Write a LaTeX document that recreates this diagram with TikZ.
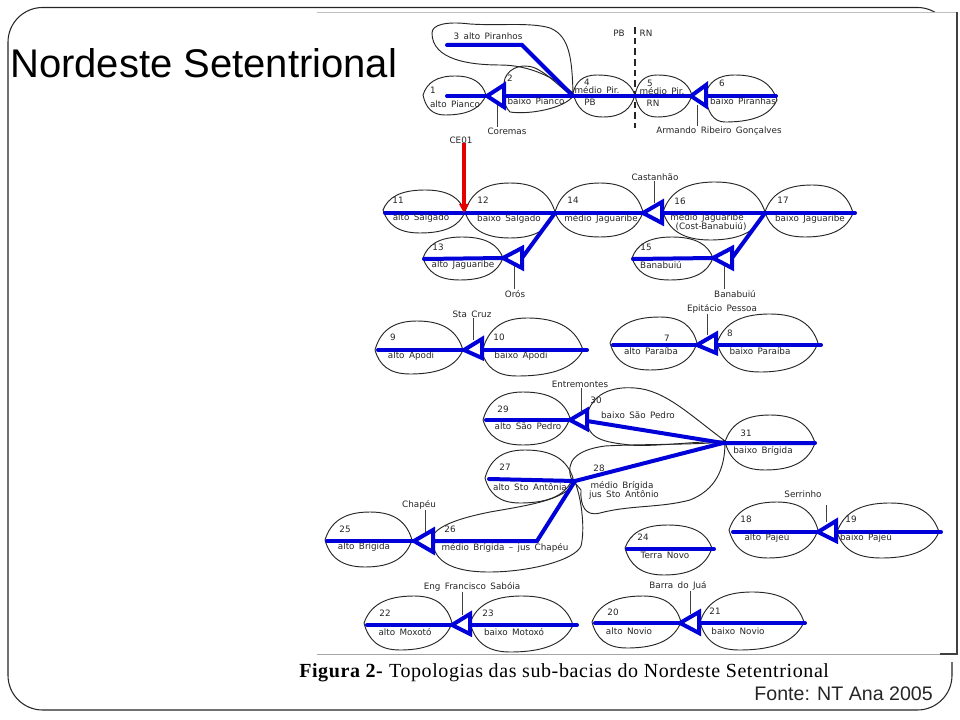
\documentclass[tikz,border=0pt]{standalone}
\usepackage{fontspec}
\setmainfont{Liberation Sans}
\newfontfamily\capfont[LetterSpace=3]{Liberation Serif}
\newfontfamily\lblfont{DejaVu Sans}
\tikzset{
 frameline/.style={draw=black!85,line width=0.8pt,rounded corners=26pt},
 basin/.style={draw=black!85,line width=0.7pt},
 river/.style={draw=blue!85!black,line width=3pt,line cap=round,line join=miter},
 dam/.style={draw=blue!85!black,line width=3pt,line join=miter,fill=white},
 stem/.style={draw=black!75,line width=0.6pt},
 lbl/.style={font=\lblfont\fontsize{6.6}{7}\selectfont,text=black!85,inner sep=0.5pt},
}
% lens-shaped basin: left tip, top, right tip, bottom
\newcommand{\lens}[8]{\draw[basin] (#1,#2)
 .. controls ({#1+0.12*(#3-#1)},{#2+0.62*(#4-#2)}) and ({#3-0.6*(#3-#1)},#4) .. (#3,#4)
 .. controls ({#3+0.6*(#5-#3)},#4) and ({#5-0.12*(#5-#3)},{#6+0.62*(#4-#6)}) .. (#5,#6)
 .. controls ({#5-0.12*(#5-#7)},{#6+0.62*(#8-#6)}) and ({#7+0.6*(#5-#7)},#8) .. (#7,#8)
 .. controls ({#7-0.6*(#7-#1)},#8) and ({#1+0.12*(#7-#1)},{#2+0.62*(#8-#2)}) .. (#1,#2) -- cycle;}
\newcommand{\lb}[3]{\node[lbl] at (#1,#2) {#3};}
\newcommand{\damm}[2]{\draw[dam] (#1) -- (#2 t) -- (#2 b) -- cycle;}
\begin{document}
\begin{tikzpicture}[x=0.75pt,y=-0.75pt]
\useasboundingbox (0,0) rectangle (960,720);
\fill[white] (0,0) rectangle (960,720);
\draw[frameline] (8,7.5) rectangle (952,710);
\fill[white] (317,12) rectangle (957,654);
\fill[white] (940,654) rectangle (957,662);
\draw[black!25,line width=0.6pt] (317,12) -- (957,12);
\draw[black!35,line width=0.7pt] (317,654) -- (957,654);
\draw[black!75,line width=1.1pt] (940,654) -- (957,654) -- (957,12);
\node[anchor=west,inner sep=0pt,font=\fontsize{30}{32}\selectfont] (title) at (10,63) {Nordeste Setentrional};
\node[anchor=west,inner sep=0pt,font=\capfont\fontsize{15}{16}\selectfont] (cap) at (299,673) {\textbf{Figura 2-} Topologias das sub-bacias do Nordeste Setentrional};
\node[anchor=east,inner sep=0pt,font=\fontsize{14.7}{16}\selectfont,text=black!85] (src) at (933,694) {Fonte: NT Ana 2005};
% ---- basins
\lens{423}{95}{455}{76}{486}{95}{445}{115}
\draw[basin] (432,33) .. controls (432,25) and (445,21) .. (470,24) .. controls (500,26) and (530,22) .. (550,28) .. controls (570,36) and (572,60) .. (573,93) .. controls (555,78) and (530,65) .. (500,65) .. controls (470,65) and (432,60) .. (432,33) -- cycle;
\draw[basin] (504,83) .. controls (505,70) and (520,62) .. (535,68) .. controls (550,75) and (560,88) .. (573,96) .. controls (565,108) and (530,115) .. (510,112) .. controls (503,105) and (503,95) .. (504,83) -- cycle;
\lens{573}{93}{597}{75}{635}{95}{603}{117}
\lens{635}{95}{657}{75}{692}{95}{657}{117}
\lens{705}{95}{735}{75}{777}{100}{725}{122}
\lens{383}{210}{425}{190}{465}{212}{420}{233}
\lens{465}{212}{510}{183}{555}{212}{510}{238}
\lens{555}{212}{600}{183}{643}{212}{600}{237}
\lens{663}{212}{715}{182}{765}{212}{710}{240}
\lens{765}{212}{812}{185}{853}{213}{805}{237}
\lens{423}{258}{462}{237}{503}{258}{460}{280}
\lens{632}{258}{672}{237}{713}{258}{670}{280}
\lens{375}{350}{417}{321}{463}{350}{410}{374}
\lens{482}{352}{527}{318}{583}{350}{517}{376}
\lens{610}{343}{660}{317}{697}{343}{650}{370}
\lens{717}{343}{770}{314}{818}{343}{760}{372}
\lens{483}{420}{523}{392}{570}{418}{523}{445}
\draw[basin] (587,415) .. controls (592,395) and (610,386) .. (635,388) .. controls (665,390) and (690,415) .. (725,441) .. controls (690,442) and (650,447) .. (630,445) .. controls (605,442) and (585,440) .. (587,415) -- cycle;
\lens{725}{442}{770}{415}{815}{443}{765}{470}
\lens{485}{478}{525}{450}{573}{478}{520}{503}
\draw[basin] (571,478) .. controls (566,462) and (575,450) .. (605,446) .. controls (640,444) and (690,445) .. (725,442) .. controls (725,470) and (715,490) .. (690,500) .. controls (660,508) and (630,505) .. (600,513) .. controls (585,517) and (580,505) .. (581,490) -- cycle;
\draw[basin] (433,535) .. controls (440,525) and (460,518) .. (490,512) .. controls (530,505) and (565,500) .. (575,482) .. controls (582,500) and (585,530) .. (581,546) .. controls (575,560) and (530,572) .. (489,572) .. controls (450,572) and (430,560) .. (433,535) -- cycle;
\lens{325}{540}{370}{512}{412}{540}{365}{567}
\lens{625}{548}{668}{525}{712}{548}{664}{575}
\lens{729}{530}{777}{502}{818}{530}{768}{558}
\lens{837}{532}{890}{503}{939}{532}{881}{558}
\lens{364}{623}{414}{596}{452}{623}{400}{650}
\lens{470}{623}{522}{596}{573}{625}{510}{652}
\lens{592}{622}{643}{596}{681}{622}{627}{648}
\lens{700}{622}{752}{592}{804}{622}{739}{650}
% ---- coordinates: dams (tip, base top, base bottom)
\coordinate (a1) at (487,96);  \coordinate (A1 t) at (504,85);  \coordinate (A1 b) at (504,107);
\coordinate (a2) at (691,96);  \coordinate (A2 t) at (706,85);  \coordinate (A2 b) at (706,106);
\coordinate (a3) at (643,213); \coordinate (A3 t) at (662,202); \coordinate (A3 b) at (662,223);
\coordinate (a4) at (503,258); \coordinate (A4 t) at (522,248); \coordinate (A4 b) at (522,268);
\coordinate (a5) at (713,258); \coordinate (A5 t) at (732,248); \coordinate (A5 b) at (732,268);
\coordinate (a6) at (464,350); \coordinate (A6 t) at (482,339); \coordinate (A6 b) at (482,358);
\coordinate (a7) at (697,345); \coordinate (A7 t) at (716,334); \coordinate (A7 b) at (716,353);
\coordinate (a8) at (570,420); \coordinate (A8 t) at (587,410); \coordinate (A8 b) at (587,429);
\coordinate (a9) at (414,541); \coordinate (A9 t) at (433,530); \coordinate (A9 b) at (433,552);
\coordinate (a10) at (818,532);\coordinate (A10 t) at (836,521);\coordinate (A10 b) at (836,541);
\coordinate (a11) at (452,625);\coordinate (A11 t) at (470,614);\coordinate (A11 b) at (470,634);
\coordinate (a12) at (680,623);\coordinate (A12 t) at (699,612);\coordinate (A12 b) at (699,633);
% ---- junctions
\coordinate (j4) at (573,96); \coordinate (j14) at (555,213); \coordinate (j17) at (765,213);
\coordinate (j31) at (723,443); \coordinate (j28) at (575,481); \coordinate (k26) at (537,541);
% ---- dividing line
\draw[black!85,line width=1pt,dash pattern=on 5pt off 3pt] (635,27) coordinate (pbt) -- (635,128) coordinate (pbb);
% ---- rivers
\draw[river] (447,96) coordinate (r1) -- (a1);
\draw[river] (447,45) coordinate (r3) -- (522,45) -- (j4);
\draw[river] (A1 t |- a1) -- (j4) -- (a2);
\draw[river] (A2 t |- a2) -- (776,96) coordinate (r6);
\draw[river] (385,213) coordinate (r11) -- (a3);
\draw[river] (A3 t |- a3) -- (855,213) coordinate (r17);
\draw[river] (j14) -- (522,258);
\draw[river] (424,259) coordinate (r13) -- (a4);
\draw[river] (j17) -- (732,258);
\draw[river] (633,259) coordinate (r15) -- (a5);
\draw[river] (378,350) coordinate (r9) -- (a6);
\draw[river] (482,350) -- (587,350) coordinate (r10);
\draw[river] (613,345) coordinate (r7) -- (a7);
\draw[river] (716,345) -- (821,345) coordinate (r8);
\draw[river] (486,420) coordinate (r29) -- (a8);
\draw[river] (815,443) coordinate (r31) -- (j31) -- (587,421);
\draw[river] (j31) -- (j28) -- (k26) -- (433,541);
\draw[river] (489,479) coordinate (r27) -- (j28);
\draw[river] (327,541) coordinate (r25) -- (a9);
\draw[river] (627,549) coordinate (r24a) -- (714,549) coordinate (r24b);
\draw[river] (733,532) coordinate (r18) -- (a10);
\draw[river] (836,532) -- (941,532) coordinate (r19);
\draw[river] (367,625) coordinate (r22) -- (a11);
\draw[river] (470,625) -- (577,625) coordinate (r23);
\draw[river] (595,623) coordinate (r20) -- (a12);
\draw[river] (699,623) -- (805,623) coordinate (r21);
% ---- dams
\damm{a1}{A1}\damm{a2}{A2}\damm{a3}{A3}\damm{a4}{A4}\damm{a5}{A5}\damm{a6}{A6}
\damm{a7}{A7}\damm{a8}{A8}\damm{a9}{A9}\damm{a10}{A10}\damm{a11}{A11}\damm{a12}{A12}
% ---- dam labels
\node[lbl] (coremas) at (507,131) {Coremas};
\node[lbl] (armando) at (719,131) {Armando\enspace Ribeiro\enspace Gonçalves};
\node[lbl] (ce01) at (461,140) {CE01};
\node[lbl] (castanhao) at (655,177) {Castanhão};
\node[lbl] (oros) at (515,294) {Orós};
\node[lbl] (banab) at (735,294) {Banabuiú};
\node[lbl] (stacruz) at (472,314) {Sta\enspace Cruz};
\node[lbl] (epitacio) at (722,309) {Epitácio\enspace Pessoa};
\node[lbl] (entre) at (580,384) {Entremontes};
\node[lbl] (chapeu) at (419,505) {Chapéu};
\node[lbl] (serrinho) at (803,494) {Serrinho};
\node[lbl] (sabo) at (472,587) {Eng\enspace Francisco\enspace Sabóia};
\node[lbl] (barra) at (678,586) {Barra\enspace do\enspace Juá};
% ---- stems
\coordinate (s1) at (497,105); \coordinate (s2) at (697,105); \coordinate (s3) at (654,203);
\coordinate (s4) at (514,266); \coordinate (s5) at (724,266); \coordinate (s6) at (473,340);
\coordinate (s7) at (707,335); \coordinate (s8) at (581,412); \coordinate (s9) at (425,532);
\coordinate (s10) at (826,522); \coordinate (s10t) at (826,505); \coordinate (s11) at (462,615); \coordinate (s12) at (690,614);
\draw[stem] (s1) -- (s1 |- coremas.north);
\draw[stem] (s2) -- (s2 |- armando.north);
\draw[stem] (s3) -- (s3 |- castanhao.south);
\draw[stem] (s4) -- (s4 |- oros.north);
\draw[stem] (s5) -- (s5 |- banab.north);
\draw[stem] (s6) -- (s6 |- stacruz.south);
\draw[stem] (s7) -- (s7 |- epitacio.south);
\draw[stem] (s8) -- (s8 |- entre.south);
\draw[stem] (s9) -- (s9 |- chapeu.south);
\draw[stem] (s10) -- (s10t);
\draw[stem] (s11) -- (s11 |- sabo.south);
\draw[stem] (s12) -- (s12 |- barra.south);
% ---- red arrow
\coordinate (redtip) at (464,213);
\draw[draw=red!90!black,line width=3pt] (464,143) -- (464,204);
\fill[red!90!black] (459,204) -- (469,204) -- (redtip) -- cycle;
% ---- basin labels
\lb{488}{36}{3\enspace alto\enspace Piranhos}
\lb{433}{90}{1}\lb{455}{104}{alto\enspace Pianco}
\lb{510}{78}{2}\lb{536}{101}{baixo\enspace Pianco}
\lb{587}{82}{4}\lb{597}{90}{médio\enspace Pir.}\lb{590}{102}{PB}
\lb{650}{83}{5}\lb{662}{91}{médio\enspace Pir.}\lb{653}{103}{RN}
\lb{722}{83}{6}\lb{743}{101}{baixo\enspace Piranhas}
\lb{619}{33}{PB}\lb{646}{33}{RN}
\lb{398}{200}{11}\lb{421}{218}{alto\enspace Salgado}
\lb{483}{200}{12}\lb{509}{219}{baixo\enspace Salgado}
\lb{573}{200}{14}\lb{601}{219}{médio\enspace Jaguaribe}
\lb{680}{201}{16}\lb{707}{218}{médio\enspace Jaguaribe}\lb{711}{227}{(Cost-Banabuiú)}
\lb{783}{200}{17}\lb{810}{219}{baixo\enspace Jaguaribe}
\lb{438}{247}{13}\lb{463}{265}{alto\enspace Jaguaribe}
\lb{646}{247}{15}\lb{661}{265}{Banabuiú}
\lb{393}{337}{9}\lb{411}{356}{alto\enspace Apodi}
\lb{499}{337}{10}\lb{521}{356}{baixo\enspace Apodi}
\lb{667}{338}{7}\lb{651}{351}{alto\enspace Paraíba}
\lb{730}{333}{8}\lb{760}{351}{baixo\enspace Paraíba}
\lb{503}{409}{29}\lb{528}{426}{alto\enspace São\enspace Pedro}
\lb{596}{400}{30}\lb{638}{415}{baixo\enspace São\enspace Pedro}
\lb{746}{433}{31}\lb{763}{451}{baixo\enspace Brígida}
\lb{505}{467}{27}\lb{530}{487}{alto\enspace Sto\enspace Antônia}
\lb{599}{468}{28}\lb{622}{486}{médio\enspace Brígida}\lb{624}{495}{jus\enspace Sto\enspace Antônio}
\lb{345}{529}{25}\lb{364}{547}{alto\enspace Brígida}
\lb{450}{529}{26}\lb{505}{548}{médio\enspace Brígida\enspace –\enspace jus\enspace Chapéu}
\lb{643}{537}{24}\lb{665}{555}{Terra\enspace Novo}
\lb{746}{519}{18}\lb{767}{538}{alto\enspace Pajeú}
\lb{851}{519}{19}\lb{866}{538}{baixo\enspace Pajeú}
\lb{385}{613}{22}\lb{405}{632}{alto\enspace Moxotó}
\lb{488}{613}{23}\lb{514}{632}{baixo\enspace Motoxó}
\lb{613}{612}{20}\lb{629}{631}{alto\enspace Novio}
\lb{715}{611}{21}\lb{738}{631}{baixo\enspace Novio}
\end{tikzpicture}
\end{document}
